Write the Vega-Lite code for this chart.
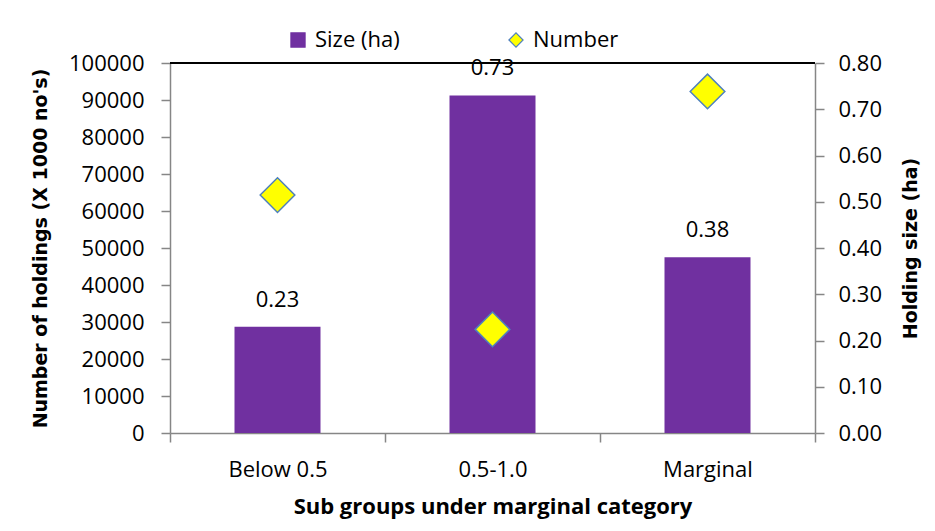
{
  "$schema": "https://vega.github.io/schema/vega-lite/v6.json",
  "width": 645,
  "height": 370,
  "autosize": {"type": "none"},
  "padding": {"left": 170, "top": 63, "right": 120, "bottom": 98},
  "background": "white",
  "config": {
    "view": {"stroke": null},
    "font": "Open Sans",
    "axis": {
      "grid": false,
      "domainColor": "#868686",
      "domainWidth": 1.5,
      "tickColor": "#868686",
      "tickWidth": 1.5,
      "tickSize": 9,
      "labelColor": "black",
      "labelFont": "Open Sans",
      "labelFontSize": 22,
      "labelOverlap": false,
      "titleColor": "black",
      "titleFontWeight": "bold"
    }
  },
  "data": {
    "values": [
      {"group": "Below 0.5", "size": 0.23, "number": 64300},
      {"group": "0.5-1.0", "size": 0.73, "number": 28000},
      {"group": "Marginal", "size": 0.38, "number": 92300}
    ]
  },
  "layer": [
    {
      "layer": [
        {
          "mark": {"type": "bar", "width": {"band": 0.4}},
          "encoding": {
            "x": {
              "field": "group",
              "type": "nominal",
              "sort": null,
              "scale": {"paddingInner": 0, "paddingOuter": 0},
              "axis": {
                "title": "Sub groups under marginal category",
                "titleFont": "Open Sans",
                "titleFontSize": 22,
                "titlePadding": 16,
                "labelAngle": 0,
                "labelPadding": 17,
                "tickBand": "extent"
              }
            },
            "y": {
              "field": "size",
              "type": "quantitative",
              "scale": {"domain": [0, 0.8]},
              "axis": {
                "orient": "right",
                "title": "Holding size (ha)",
                "titleFont": "DejaVu Sans",
                "titleFontSize": 19,
                "titleAngle": -90,
                "titleBaseline": "top",
                "titlePadding": 20,
                "format": ".2f",
                "values": [0, 0.1, 0.2, 0.3, 0.4, 0.5, 0.6, 0.7, 0.8],
                "labelPadding": 14
              }
            },
            "color": {
              "datum": "Size (ha)",
              "type": "nominal",
              "scale": {"domain": ["Size (ha)", "Number"], "range": ["#7030A0", "#FFFF00"]},
              "legend": {
                "title": null,
                "orient": "none",
                "legendX": 117,
                "legendY": -34,
                "direction": "horizontal",
                "columnPadding": 105,
                "labelFont": "Open Sans",
                "labelFontSize": 22,
                "labelColor": "black",
                "labelOffset": 6,
                "symbolSize": 200,
                "encode": {
                  "symbols": {
                    "update": {
                      "shape": {"signal": "datum.value === 'Number' ? 'diamond' : 'square'"},
                      "stroke": {"signal": "datum.value === 'Number' ? '#4F81BD' : '#7030A0'"},
                      "strokeWidth": {"value": 1.2},
                      "opacity": {"value": 1}
                    }
                  }
                }
              }
            }
          }
        },
        {
          "mark": {"type": "text", "fontSize": 22, "font": "Open Sans", "baseline": "middle", "dy": -27, "color": "black"},
          "encoding": {
            "x": {"field": "group", "type": "nominal", "sort": null},
            "y": {"field": "size", "type": "quantitative"},
            "text": {"field": "size", "type": "quantitative", "format": ".2f"}
          }
        }
      ]
    },
    {
      "layer": [
        {
          "mark": {"type": "point", "shape": "diamond", "filled": true, "size": 1200, "stroke": "#4F81BD", "strokeWidth": 1.5, "opacity": 1},
          "encoding": {
            "x": {"field": "group", "type": "nominal", "sort": null},
            "y": {
              "field": "number",
              "type": "quantitative",
              "scale": {"domain": [0, 100000]},
              "axis": {
                "orient": "left",
                "title": "Number of holdings (X 1000 no's)",
                "titleFont": "DejaVu Sans",
                "titleFontSize": 19,
                "titlePadding": 18,
                "format": "d",
                "values": [0, 10000, 20000, 30000, 40000, 50000, 60000, 70000, 80000, 90000, 100000],
                "labelPadding": 17
              }
            },
            "color": {"datum": "Number", "type": "nominal"}
          }
        },
        {
          "mark": {"type": "rule", "color": "black", "strokeWidth": 2},
          "encoding": {
            "y": {
              "datum": 100000,
              "type": "quantitative",
              "axis": {
                "orient": "left",
                "title": "Number of holdings (X 1000 no's)",
                "titleFont": "DejaVu Sans",
                "titleFontSize": 19,
                "titlePadding": 18,
                "format": "d",
                "values": [0, 10000, 20000, 30000, 40000, 50000, 60000, 70000, 80000, 90000, 100000],
                "labelPadding": 17
              }
            }
          }
        }
      ]
    }
  ],
  "resolve": {"scale": {"y": "independent"}}
}
